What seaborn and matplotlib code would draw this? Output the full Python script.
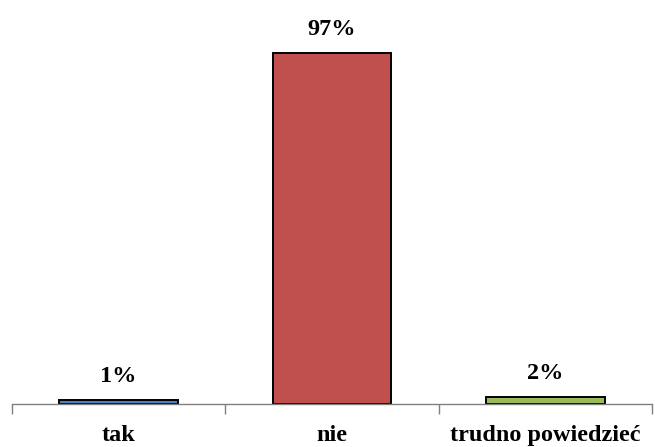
import matplotlib
matplotlib.use("Agg")
import matplotlib.pyplot as plt
import seaborn as sns
import pandas as pd

categories = ["tak", "nie", "trudno powiedzieć"]
values = [1, 97, 2]
colors = ["#4F81BD", "#C0504D", "#9BBB59"]

sns.set_theme(style="white")
plt.rcParams["font.family"] = ["Liberation Serif", "DejaVu Serif"]
plt.rcParams["text.color"] = "black"
plt.rcParams["xtick.color"] = "black"

df = pd.DataFrame({"odp": categories, "pct": values})

fig = plt.figure(figsize=(6.55, 4.47), dpi=100)
ax = fig.add_axes([12 / 655, 43 / 447, 640 / 655, 362 / 447])

sns.barplot(data=df, x="odp", y="pct", hue="odp", palette=colors, legend=False,
            width=0.557, edgecolor="black", linewidth=1.4, saturation=1, ax=ax)

ax.set_xlim(-0.5, 2.5)
ax.set_ylim(0, 100)
ax.set_xlabel("")
ax.set_ylabel("")
ax.set_yticks([])

for s in ["top", "right", "left"]:
    ax.spines[s].set_visible(False)
ax.spines["bottom"].set_color("#808080")
ax.spines["bottom"].set_linewidth(1.0)

# category boundaries carry the tick marks, centres carry the labels
ax.set_xticks([-0.5, 0.5, 1.5, 2.5])
ax.set_xticklabels([])
ax.set_xticks([0, 1, 2], minor=True)
ax.set_xticklabels(categories, minor=True, fontsize=17.5, fontweight="bold",
                   color="black")
ax.tick_params(axis="x", which="major", direction="out", length=7, width=1.0,
               color="#808080", bottom=True)
ax.tick_params(axis="x", which="minor", length=0, pad=15)

for i, v in enumerate(values):
    ax.annotate(f"{v}%", (i, v), xytext=(0, 9.5), textcoords="offset points",
                ha="center", va="bottom", fontsize=17.5, fontweight="bold",
                color="black")

fig.savefig("out.png", dpi=100)
